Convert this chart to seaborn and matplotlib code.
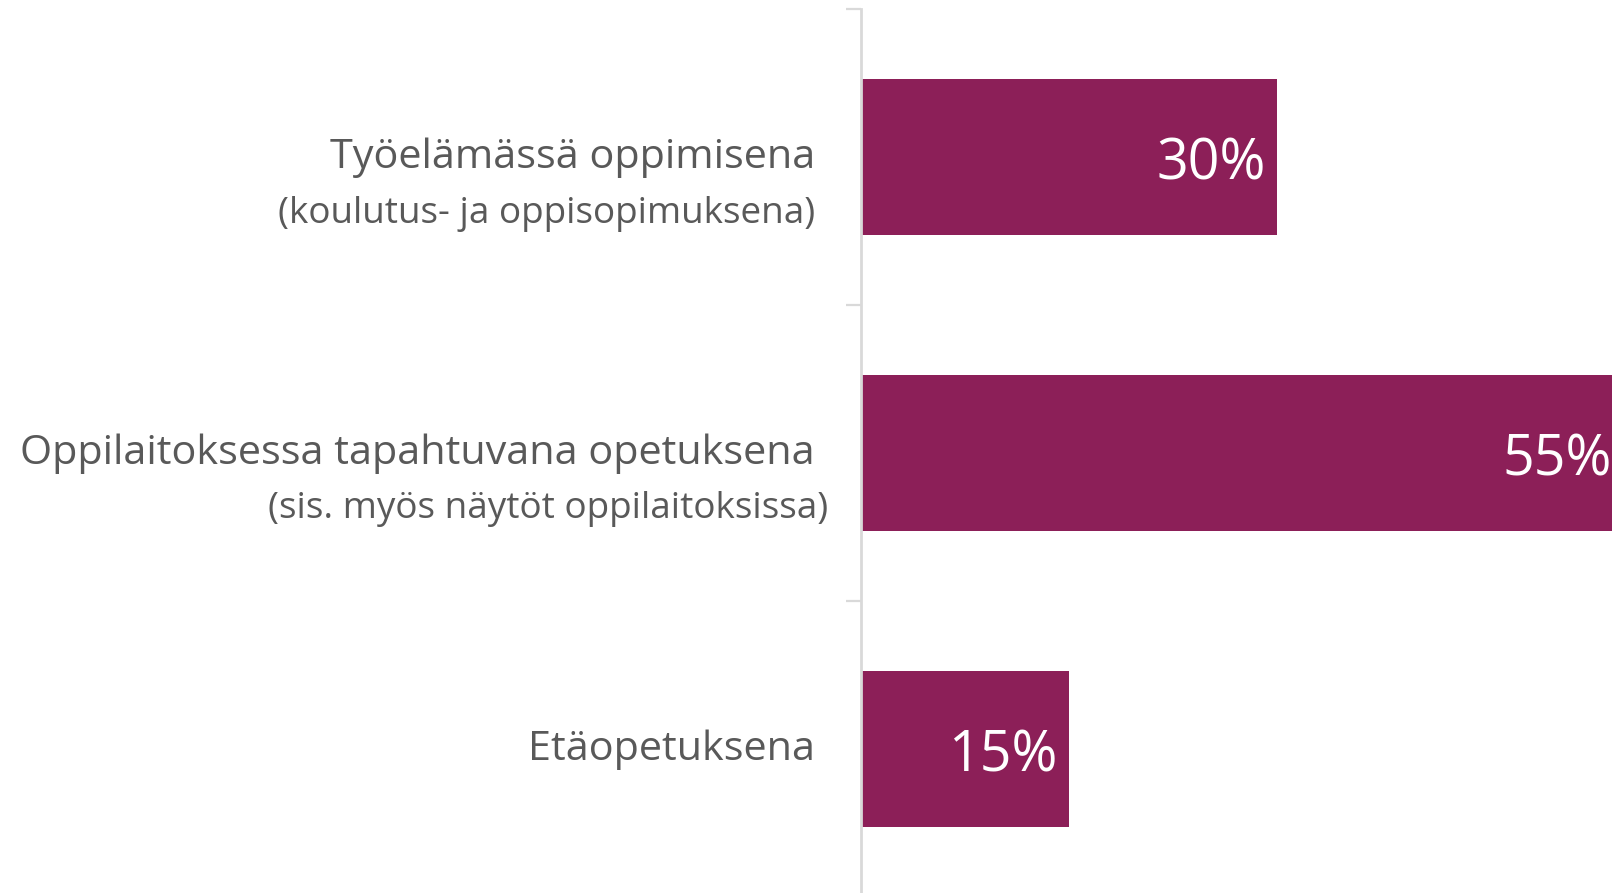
import matplotlib
matplotlib.use("Agg")
import matplotlib.pyplot as plt
import matplotlib.transforms as mtransforms
import seaborn as sns
import pandas as pd

categories = ["Työelämässä oppimisena",
              "Oppilaitoksessa tapahtuvana opetuksena",
              "Etäopetuksena"]
sublabels = ["(koulutus- ja oppisopimuksena)",
             "(sis. myös näytöt oppilaitoksissa)",
             ""]
values = [30, 55, 15]
value_labels = ["30%", "55%", "15%"]

BAR = "#8C1F58"
TXT = "#595959"
AXC = "#D9D9D9"
FONT = "Open Sans"

sns.set_theme(style="white")
plt.rcParams["font.family"] = [FONT, "DejaVu Sans"]

df = pd.DataFrame({"cat": categories, "val": values})

W, H = 1612, 893
DPI = 100
fig = plt.figure(figsize=(W / DPI, H / DPI), dpi=DPI)
cat_px = 296
ax_h = cat_px * len(categories)
ax = fig.add_axes([861 / W, (H - 9 - ax_h) / H, 1 - 861 / W, ax_h / H])

sns.barplot(data=df, x="val", y="cat", orient="h", color=BAR, saturation=1,
            width=0.525, ax=ax, linewidth=0)

ax.set_xlim(0, 751 / 13.85)
ax.set_ylim(len(categories) - 0.5, -0.5)
ax.set_xlabel("")
ax.set_ylabel("")
ax.set_xticks([])
ax.set_yticks([i - 0.5 for i in range(len(categories) + 1)])
ax.set_yticklabels([])
ax.tick_params(axis="y", length=11, width=1.6, color=AXC, left=True)
for s in ["top", "right", "bottom"]:
    ax.spines[s].set_visible(False)
ax.spines["left"].set_color(AXC)
ax.spines["left"].set_linewidth(2)

def px(dx, dy):
    # offset in pixels (dy positive = downward on screen)
    return mtransforms.offset_copy(ax.transData, fig=fig, x=dx * 72 / DPI,
                                   y=-dy * 72 / DPI, units="points")

# value labels inside bar end
for i, (v, lab) in enumerate(zip(values, value_labels)):
    ax.text(v, i, lab, transform=px(-11, 22.5), ha="right", va="baseline",
            color="white", fontsize=40, clip_on=False)

# category labels
blend = mtransforms.blended_transform_factory(fig.transFigure, ax.transData)
def bpx(dy):
    return mtransforms.offset_copy(blend, fig=fig, x=0, y=-dy * 72 / DPI, units="points")

sub_right = [815, 828, 815]
sub_dy = [66, 64.5, 0]
for i, (c, s) in enumerate(zip(categories, sublabels)):
    ax.text(815 / W, i, c, transform=bpx(11), ha="right", va="baseline",
            color=TXT, fontsize=29.8)
    if s:
        ax.text(sub_right[i] / W, i, s, transform=bpx(sub_dy[i]), ha="right",
                va="baseline", color=TXT, fontsize=26.6)

fig.savefig("out.png", dpi=DPI)
